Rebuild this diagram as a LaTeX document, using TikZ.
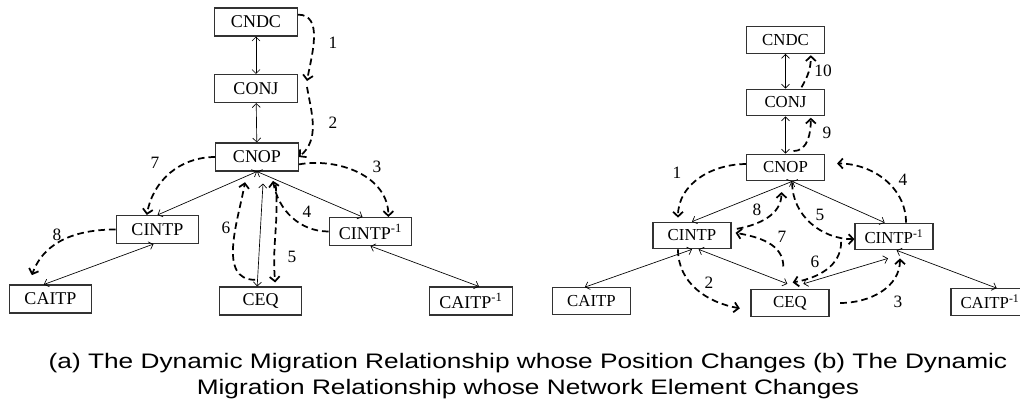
\documentclass[tikz,border=0pt]{standalone}
\usepackage{fontspec}
\setmainfont{Liberation Serif}
\newfontfamily\capfont[FakeStretch=1.25]{Liberation Sans}
\usepackage{tikz}
\usetikzlibrary{arrows.meta}
\definecolor{box_gray}{RGB}{50,50,50}

\begin{document}
\begin{tikzpicture}[x=0.75pt,y=-0.75pt,semithick]
    \tikzstyle{elem}=[draw=box_gray, rectangle, line width=0.8pt, minimum width=62pt, minimum height=21pt, inner sep=0pt, font=\fontsize{13.5}{15}\selectfont]
    \tikzstyle{elemb}=[elem, minimum width=58.5pt, minimum height=20pt, font=\fontsize{12.6}{14}\selectfont]
    \tikzstyle{link}=[{Straight Barb[length=3pt,width=6pt]}-{Straight Barb[length=3pt,width=6pt]}, line width=0.5pt]
    \tikzstyle{move}=[-{Straight Barb[length=3.5pt,width=7.5pt]}, line width=1.3pt, dash pattern=on 5pt off 3pt]
    \tikzstyle{lab}=[font=\fontsize{13}{15}\selectfont, inner sep=0pt]
    \useasboundingbox (0,0) rectangle (1020,411);

    % (a) position changes
    \node[elem] (cndcA)   at (256,22)      {CNDC};
    \node[elem] (conjA)   at (256,88.5)    {CONJ};
    \node[elem] (cnopA)   at (257,157)     {CNOP};
    \node[elem] (cintpA)  at (157.5,229.5) {CINTP};
    \node[elem] (cintpiA) at (370.5,231.5) {CINTP\textsuperscript{-1}};
    \node[elem] (caitpA)  at (50.5,299)    {CAITP};
    \node[elem] (ceqA)    at (260.5,301)   {CEQ};
    \node[elem] (caitpiA) at (471,301)     {CAITP\textsuperscript{-1}};
    \coordinate (endA1)   at (307,81);
    \coordinate (startA2) at (307,87);
    \path
     (cndcA) edge[link] (conjA)
     (conjA) edge[link] (cnopA)
     (cnopA.south) edge[link] (cintpA.north)
     (cnopA.south) edge[link] ([xshift=-6pt]cintpiA.north)
     ([xshift=-2.5pt]ceqA.north) edge[link] ([xshift=4.5pt,yshift=-9pt]cnopA.south)
     ([xshift=-3pt]cintpA.south) edge[link] ([xshift=-5pt]caitpA.north)
     (cintpiA.south) edge[link] ([xshift=6pt]caitpiA.north)
     ;
    \path
     (cndcA.10) edge[move, out=0, in=80] (endA1)
     (startA2) edge[move, out=-80, in=40] (cnopA.east)
     (cnopA.-10) edge[move, out=10, in=90] ([xshift=-18pt]cintpiA.north east)
     (cintpiA.west) edge[move, out=180, in=-80] ([xshift=12pt,yshift=-7pt]cnopA.south)
     ([xshift=14pt,yshift=-10pt]cnopA.south) edge[move, out=-85, in=95] ([xshift=11pt,yshift=3pt]ceqA.north)
     ([xshift=-4pt,yshift=5pt]ceqA.north) edge[move, out=180, in=-100] ([xshift=-9pt,yshift=-8pt]cnopA.south)
     (cnopA.west) edge[move, out=180, in=80] ([xshift=-8pt]cintpA.north)
     (cintpA.west) edge[move, out=180, in=70] ([xshift=-14pt,yshift=7pt]caitpA.north)
     ;
    \node[lab] (lA1) at (333,43)  {1};
    \node[lab] (lA2) at (333,123) {2};
    \node[lab] (lA3) at (377,167) {3};
    \node[lab] (lA4) at (307,212) {4};
    \node[lab] (lA5) at (292,257) {5};
    \node[lab] (lA6) at (226,228) {6};
    \node[lab] (lA7) at (155,163) {7};
    \node[lab] (lA8) at (57,235)  {8};

    % (b) network element changes
    \node[elemb] (cndcB)   at (785.5,40)    {CNDC};
    \node[elemb] (conjB)   at (785.5,102.5) {CONJ};
    \node[elemb] (cnopB)   at (785.5,167.5) {CNOP};
    \node[elemb] (cintpB)  at (692,235.5)   {CINTP};
    \node[elemb] (cintpiB) at (894,236.5)   {CINTP\textsuperscript{-1}};
    \node[elemb] (caitpB)  at (591.5,301)   {CAITP};
    \node[elemb] (ceqB)    at (790,303)     {CEQ};
    \node[elemb] (caitpiB) at (990,302)     {CAITP\textsuperscript{-1}};
    \path
     (cndcB) edge[link] (conjB)
     (conjB) edge[link] (cnopB)
     ([xshift=5pt]cnopB.south) edge[link] (cintpB.north)
     ([xshift=5pt]cnopB.south) edge[link] ([xshift=-7pt]cintpiB.north)
     (cintpB.south) edge[link] ([xshift=-5pt]caitpB.north)
     ([xshift=5pt]cintpB.south) edge[link] ([xshift=-2pt,yshift=4pt]ceqB.north)
     ([xshift=10pt,yshift=4pt]ceqB.north) edge[link] ([xshift=-4.5pt,yshift=-6pt]cintpiB.south)
     ([xshift=2pt]cintpiB.south) edge[link] ([xshift=5pt]caitpiB.north)
     ;
    \path
     (cnopB.175) edge[move, out=180, in=90] ([xshift=-10.5pt,yshift=3pt]cintpB.north)
     ([xshift=-10.5pt]cintpB.south) edge[move, out=-90, in=170] ([xshift=-8pt,yshift=-4pt]ceqB.west)
     ([xshift=8pt]ceqB.east) edge[move, out=0, in=-90] ([xshift=4.5pt,yshift=-6pt]cintpiB.south)
     ([xshift=9pt]cintpiB.north) edge[move, out=90, in=0] ([xshift=9pt,yshift=3pt]cnopB.east)
     ([xshift=5pt,yshift=-1pt]cnopB.south) edge[move, out=-90, in=180] ([yshift=-2pt]cintpiB.west)
     ([xshift=-10pt,yshift=-4pt]cintpiB.west) edge[move, out=-90, in=10] ([xshift=2pt,yshift=5pt]ceqB.north)
     ([xshift=-5pt,yshift=17pt]ceqB.north) edge[move, out=90, in=-10] ([xshift=3pt,yshift=2pt]cintpB.east)
     ([xshift=4pt,yshift=5pt]cintpB.east) edge[move, out=10, in=-90] ([xshift=-3pt,yshift=-8pt]cnopB.south)
     ([xshift=6pt,yshift=2pt]cnopB.north) edge[move, out=0, in=-90] ([xshift=19pt,yshift=-1pt]conjB.south)
     ([xshift=12pt,yshift=1pt]conjB.north) edge[move, out=60, in=-90] ([xshift=19pt,yshift=-1pt]cndcB.south)
     ;
    \node[lab] (lB1)  at (677,173) {1};
    \node[lab] (lB2)  at (709,283) {2};
    \node[lab] (lB3)  at (898,302) {3};
    \node[lab] (lB4)  at (903,180) {4};
    \node[lab] (lB5)  at (820,215) {5};
    \node[lab] (lB6)  at (815,262) {6};
    \node[lab] (lB7)  at (782,237) {7};
    \node[lab] (lB8)  at (757,210) {8};
    \node[lab] (lB9)  at (827,133) {9};
    \node[lab] (lB10) at (823,71)  {10};

    \node[font=\capfont\fontsize{15.75}{19.5}\selectfont, align=center, inner sep=0pt] (caption) at (528,376.5)
     {(a) The Dynamic Migration Relationship whose Position Changes (b) The Dynamic\\
      Migration Relationship whose Network Element Changes};
  \end{tikzpicture}
\end{document}
